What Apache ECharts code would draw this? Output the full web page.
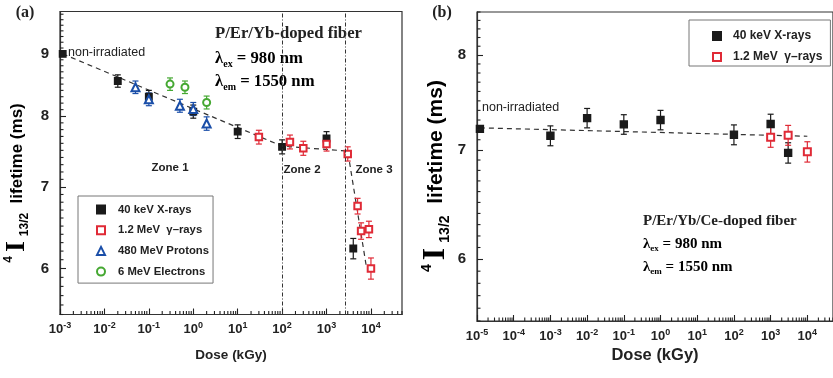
<!DOCTYPE html>
<html>
<head>
<meta charset="utf-8">
<script src="https://cdn.jsdelivr.net/npm/echarts@6/dist/echarts.min.js"></script>
<style>
  html, body { margin: 0; padding: 0; background: #fff; }
  #chart { width: 833px; height: 378px; }
</style>
</head>
<body>
<div id="chart"></div>
<script>
// ---- panel (a): P/Er/Yb-doped fiber ----
const xrayDoseA = [0.00115, 0.02, 0.1, 1, 10, 100, 1000, 4000];
const xrayLifeA = [9.0, 8.55, 8.30, 8.07, 7.77, 7.55, 7.67, 6.23];
const xrayErrA  = [0, 0.1, 0.1, 0.1, 0.1, 0.1, 0.1, 0.12];

const gammaDoseA = [30, 150, 300, 1000, 3000, 5000, 6000, 9000, 10000];
const gammaLifeA = [7.69, 7.62, 7.53, 7.59, 7.45, 6.75, 6.44, 6.46, 6.0];
const gammaErrA  = [0.1, 0.1, 0.1, 0.1, 0.1, 0.1, 0.1, 0.1, 0.12];

const protonDoseA = [0.05, 0.1, 0.5, 1, 2];
const protonLifeA = [8.45, 8.26, 8.16, 8.11, 7.89];
const protonErrA  = [0.1, 0.1, 0.1, 0.1, 0.1];

const electronDoseA = [0.3, 0.65, 2];
const electronLifeA = [8.50, 8.45, 8.21];
const electronErrA  = [0.1, 0.1, 0.1];

const fitDoseA = [0.00115, 100, 3000, 8000];
const fitLifeA = [9.0, 7.56, 7.49, 6.0];
const zoneLimitsA = [100, 2700];

// ---- panel (b): P/Er/Yb/Ce-doped fiber ----
const xrayDoseB = [1.2e-5, 0.001, 0.01, 0.1, 1, 100, 1000, 3000];
const xrayLifeB = [7.21, 7.14, 7.32, 7.255, 7.30, 7.15, 7.26, 6.97];
const xrayErrB  = [0, 0.1, 0.1, 0.1, 0.1, 0.1, 0.1, 0.1];

const gammaDoseB = [1000, 3000, 10000];
const gammaLifeB = [7.125, 7.145, 6.98];
const gammaErrB  = [0.1, 0.1, 0.1];

const fitDoseB = [1.2e-5, 10000];
const fitLifeB = [7.22, 7.135];

// ---- axis ranges and ticks ----
const xRangeA = [0.001, 50000], yRangeA = [5.5, 9.75];
const xRangeB = [1e-5, 50000], yRangeB = [5.5, 8.5];
const xExpA = [-3, -2, -1, 0, 1, 2, 3, 4];
const xExpB = [-5, -4, -3, -2, -1, 0, 1, 2, 3, 4];
const yTicksA = [6, 7, 8, 9];
const yTicksB = [6, 7, 8];

const XRAY = '40 keV X-rays', GAMMA = '1.2 MeV  \u03b3\u2013rays';
const PROTON = '480 MeV Protons', ELECTRON = '6 MeV Electrons';

const BLACK = '#1a1a1a', RED = '#e02a36', BLUE = '#1a4ea8', GREEN = '#45a832';
const SANS = 'Liberation Sans, Arial, sans-serif';
const SERIF = 'Liberation Serif, Times New Roman, serif';

const pts = (x, y) => x.map((v, i) => [v, y[i]]);

function minorLog(exps, max) {
  const out = [];
  exps.concat([exps[exps.length - 1] + 1]).forEach(e => {
    for (let m = 2; m <= 9; m++) {
      const v = m * Math.pow(10, e);
      if (v <= max) out.push(v);
    }
  });
  return out;
}
function minorLin(min, max) {
  const out = [];
  for (let k = Math.ceil(min * 10); k <= Math.floor(max * 10); k++) {
    if (k % 10 !== 0) out.push(k / 10);
  }
  return out;
}

function errBars(xi, yi, dose, life, err, color) {
  return {
    type: 'custom', xAxisIndex: xi, yAxisIndex: yi, silent: true, z: 3,
    data: dose.map((d, i) => [d, life[i] - err[i], life[i] + err[i]]).filter(r => r[2] > r[1]),
    encode: { x: 0, y: [1, 2] },
    renderItem: (params, api) => {
      const lo = api.coord([api.value(0), api.value(1)]);
      const hi = api.coord([api.value(0), api.value(2)]);
      const w = 3;
      const st = { stroke: color, lineWidth: 1.2 };
      return {
        type: 'group', children: [
          { type: 'line', shape: { x1: lo[0], y1: lo[1], x2: hi[0], y2: hi[1] }, style: st },
          { type: 'line', shape: { x1: lo[0] - w, y1: lo[1], x2: lo[0] + w, y2: lo[1] }, style: st },
          { type: 'line', shape: { x1: hi[0] - w, y1: hi[1], x2: hi[0] + w, y2: hi[1] }, style: st }
        ]
      };
    }
  };
}

// minor ticks: short marks placed through the axis scales, one series per axis
function minorX(idx, xRange, yRange, xExps) {
  return {
    type: 'custom', xAxisIndex: idx, yAxisIndex: idx, silent: true, z: 6, clip: false,
    data: minorLog(xExps, xRange[1]).map(v => [v, yRange[0]]),
    encode: { x: 0, y: 1 },
    renderItem: (params, api) => {
      const p = api.coord([api.value(0), api.value(1)]);
      return { type: 'line', shape: { x1: p[0], y1: p[1], x2: p[0], y2: p[1] - 3.5 }, style: { stroke: '#222', lineWidth: 1.1 } };
    }
  };
}
function minorY(idx, xRange, yRange) {
  return {
    type: 'custom', xAxisIndex: idx, yAxisIndex: idx, silent: true, z: 6, clip: false,
    data: minorLin(yRange[0], yRange[1]).map(v => [xRange[0], v]),
    encode: { x: 0, y: 1 },
    renderItem: (params, api) => {
      const p = api.coord([api.value(0), api.value(1)]);
      return { type: 'line', shape: { x1: p[0], y1: p[1], x2: p[0] + 3.5, y2: p[1] }, style: { stroke: '#222', lineWidth: 1.1 } };
    }
  };
}

function xAxis(gi, exps, range, nameSize, nameGap) {
  const major = exps.map(e => Number('1e' + e));
  return {
    type: 'log', gridIndex: gi, min: range[0], max: range[1], logBase: 10,
    name: 'Dose (kGy)', nameLocation: 'middle', nameGap: nameGap,
    nameTextStyle: { fontFamily: SANS, fontSize: nameSize, fontWeight: 'bold', color: '#222' },
    axisLine: { lineStyle: { color: '#333', width: 1.2 } },
    axisTick: { show: true, inside: true, length: 6, customValues: major, lineStyle: { color: '#222', width: 1.1 } },
    axisLabel: {
      customValues: major, margin: 7,
      formatter: v => '{b|10}{s|' + Math.round(Math.log10(v)) + '}',
      rich: {
        b: { fontFamily: SANS, fontSize: 13, fontWeight: 'bold', color: '#222', lineHeight: 16 },
        s: { fontFamily: SANS, fontSize: 9, fontWeight: 'bold', color: '#222', lineHeight: 10, verticalAlign: 'top' }
      }
    },
    splitLine: { show: false }
  };
}
function yAxis(gi, ticks, range) {
  return {
    type: 'log', gridIndex: gi, min: range[0], max: range[1], logBase: 10,
    axisLine: { lineStyle: { color: '#333', width: 1.2 } },
    axisTick: { show: true, inside: true, length: 6, customValues: ticks, lineStyle: { color: '#222', width: 1.1 } },
    axisLabel: {
      customValues: ticks, margin: 11, formatter: v => String(Math.round(v)),
      fontFamily: SANS, fontSize: 15, fontWeight: 'bold', color: '#222'
    },
    splitLine: { show: false }
  };
}

function scatter(name, xi, yi, data, symbol, size, color) {
  return {
    name: name, type: 'scatter', xAxisIndex: xi, yAxisIndex: yi, z: 4,
    symbol: symbol, symbolSize: size, data: data,
    itemStyle: { color: color, borderColor: color, borderWidth: 1.4, opacity: 1 }
  };
}

function fit(xi, yi, data, extra) {
  return Object.assign({
    type: 'line', xAxisIndex: xi, yAxisIndex: yi, data: data, symbol: 'none', z: 2,
    lineStyle: { color: '#333', width: 1.2, type: [5, 4] }, silent: true
  }, extra || {});
}

const subRich = size => ({
  l: { fontFamily: SERIF, fontSize: size, fontWeight: 'bold', color: '#222', lineHeight: size + 4 },
  s: { fontFamily: SERIF, fontSize: Math.round(size * 0.62), fontWeight: 'bold', color: '#222', verticalAlign: 'bottom', lineHeight: 10 }
});

function lambda(x, y, which, val, size) {
  return {
    type: 'text', x: x, y: y,
    style: {
      text: '{l|\u03bb}{s|' + which + '}{l| = ' + val + ' nm}',
      rich: subRich(size), textAlign: 'left', textVerticalAlign: 'middle'
    }
  };
}

function yTitle(x, y, fs, fsI, fsSub) {
  return {
    type: 'text', x: x, y: y, rotation: Math.PI / 2,
    style: {
      text: '{p|4}{i|I}{q|13/2}{t|  lifetime (ms)}',
      textAlign: 'center', textVerticalAlign: 'middle',
      rich: {
        p: { fontFamily: SANS, fontSize: fsSub, fontWeight: 'bold', color: '#222', verticalAlign: 'top', lineHeight: 12 },
        i: { fontFamily: SERIF, fontSize: fsI, fontWeight: 'bold', color: '#222', lineHeight: fsI, padding: [0, 5, 0, 4] },
        q: { fontFamily: SANS, fontSize: fsSub, fontWeight: 'bold', color: '#222', verticalAlign: 'bottom', lineHeight: 12 },
        t: { fontFamily: SANS, fontSize: fs, fontWeight: 'bold', color: '#222', lineHeight: fsI }
      }
    }
  };
}

function txt(x, y, text, font, align) {
  return { type: 'text', x: x, y: y, style: Object.assign({ text: text, textAlign: align || 'left', textVerticalAlign: 'middle', fill: '#222' }, font) };
}

const legendBase = {
  orient: 'vertical', itemWidth: 8, itemHeight: 8,
  borderColor: '#777', borderWidth: 1, selectedMode: false
};

const option = {
  animation: false,
  grid: [
    { left: 60, top: 11.5, width: 342, height: 303, show: true, borderColor: '#333', borderWidth: 1.2 },
    { left: 477, top: 12, width: 358, height: 309, show: true, borderColor: '#333', borderWidth: 1.2 }
  ],
  xAxis: [xAxis(0, xExpA, xRangeA, 13.5, 34), xAxis(1, xExpB, xRangeB, 16.5, 25)],
  yAxis: [yAxis(0, yTicksA, yRangeA), yAxis(1, yTicksB, yRangeB)],
  legend: [
    Object.assign({}, legendBase, {
      left: 78, top: 196, padding: [8, 4, 6, 18], itemGap: 9.7,
      data: [XRAY, GAMMA, PROTON, ELECTRON],
      textStyle: { fontFamily: SANS, fontWeight: 'bold', color: '#222', fontSize: 11.3, padding: [0, 0, 0, 8] }
    }),
    Object.assign({}, legendBase, {
      left: 689, top: 20, padding: [10, 8, 3, 23], itemGap: 9,
      data: [XRAY, GAMMA],
      textStyle: { fontFamily: SANS, fontWeight: 'bold', color: '#222', fontSize: 12, padding: [0, 0, 0, 7] }
    })
  ],
  graphic: [
    txt(25, 13, '(a)', { fontFamily: SERIF, fontSize: 16, fontWeight: 'bold' }, 'center'),
    txt(442, 13, '(b)', { fontFamily: SERIF, fontSize: 16, fontWeight: 'bold' }, 'center'),
    txt(68, 53, 'non-irradiated', { fontFamily: SANS, fontSize: 12.5 }),
    txt(482, 108, 'non-irradiated', { fontFamily: SANS, fontSize: 12.5 }),
    txt(215, 34, 'P/Er/Yb-doped fiber', { fontFamily: SERIF, fontSize: 16.7, fontWeight: 'bold' }),
    lambda(215, 59, 'ex', '980', 16.7),
    lambda(215, 82, 'em', '1550', 16.7),
    txt(643, 221, 'P/Er/Yb/Ce-doped fiber', { fontFamily: SERIF, fontSize: 15, fontWeight: 'bold' }),
    lambda(643, 244, 'ex', '980', 15),
    lambda(643, 267, 'em', '1550', 15),
    txt(170, 168, 'Zone 1', { fontFamily: SANS, fontSize: 11.5, fontWeight: 'bold' }, 'center'),
    txt(302, 170, 'Zone 2', { fontFamily: SANS, fontSize: 11.5, fontWeight: 'bold' }, 'center'),
    txt(374, 170, 'Zone 3', { fontFamily: SANS, fontSize: 11.5, fontWeight: 'bold' }, 'center'),
    yTitle(17, 183, 17, 28, 12),
    yTitle(436, 176, 21, 32, 14)
  ],
  series: [
    // panel (a)
    fit(0, 0, pts(fitDoseA, fitLifeA), {
      markLine: {
        silent: true, symbol: 'none', label: { show: false },
        lineStyle: { color: '#333', width: 1, type: [4, 2, 1, 2] },
        data: zoneLimitsA.map(v => ({ xAxis: v }))
      }
    }),
    errBars(0, 0, xrayDoseA, xrayLifeA, xrayErrA, BLACK),
    errBars(0, 0, gammaDoseA, gammaLifeA, gammaErrA, RED),
    errBars(0, 0, protonDoseA, protonLifeA, protonErrA, BLUE),
    errBars(0, 0, electronDoseA, electronLifeA, electronErrA, GREEN),
    scatter(XRAY, 0, 0, pts(xrayDoseA, xrayLifeA), 'rect', 6.5, BLACK),
    scatter(GAMMA, 0, 0, pts(gammaDoseA, gammaLifeA), 'emptyRect', 6.5, RED),
    scatter(PROTON, 0, 0, pts(protonDoseA, protonLifeA), 'emptyTriangle', 8, BLUE),
    scatter(ELECTRON, 0, 0, pts(electronDoseA, electronLifeA), 'emptyCircle', 7, GREEN),
    minorX(0, xRangeA, yRangeA, xExpA),
    minorY(0, xRangeA, yRangeA),
    // panel (b)
    fit(1, 1, pts(fitDoseB, fitLifeB)),
    errBars(1, 1, xrayDoseB, xrayLifeB, xrayErrB, BLACK),
    errBars(1, 1, gammaDoseB, gammaLifeB, gammaErrB, RED),
    scatter(XRAY, 1, 1, pts(xrayDoseB, xrayLifeB), 'rect', 7, BLACK),
    scatter(GAMMA, 1, 1, pts(gammaDoseB, gammaLifeB), 'emptyRect', 7, RED),
    minorX(1, xRangeB, yRangeB, xExpB),
    minorY(1, xRangeB, yRangeB)
  ]
};

echarts.init(document.getElementById('chart')).setOption(option);
</script>
</body>
</html>
